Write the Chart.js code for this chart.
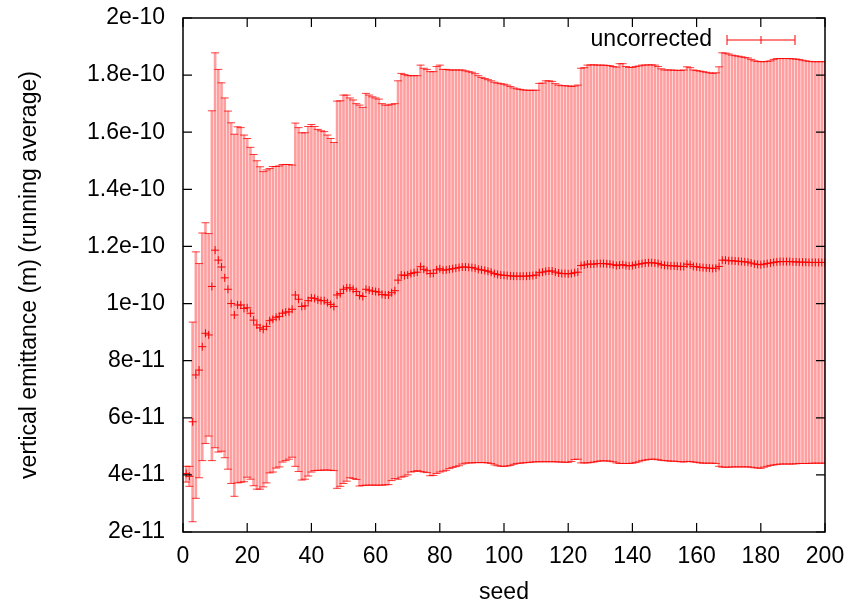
<!DOCTYPE html>
<html>
<head>
<meta charset="utf-8">
<script src="https://cdn.jsdelivr.net/npm/chart.js@4.4.1/dist/chart.umd.min.js"></script>
<style>
  html, body { margin: 0; background: #fff; }
</style>
</head>
<body>
<canvas id="myChart" width="848" height="603"></canvas>
<script>
// values in units of 1e-11 m
const UNIT = 1e-11
const seeds = Array.from({length: 200}, (_, i) => i + 1)

const upper = [
  4.3, 4.3, 9.35, 11.81, 11.4, 12.47, 12.83, 12.45, 16.75, 18.78,
  18.2, 17.73, 17.2, 16.74, 16.33, 15.93, 16.19, 16.16, 15.9, 15.78,
  15.47, 15.22, 15.0, 14.79, 14.62, 14.68, 14.73, 14.8, 14.8, 14.82,
  14.87, 14.87, 14.87, 14.85, 16.32, 16.16, 15.98, 15.98, 16.2, 16.27,
  16.2, 16.1, 16.05, 16.02, 15.9, 15.78, 15.64, 17.09, 17.1, 17.3,
  17.3, 17.2, 17.13, 17.0, 16.95, 16.87, 17.36, 17.3, 17.24, 17.2,
  17.16, 17.0, 16.95, 16.95, 16.98, 17.0, 17.8, 18.06, 18.02, 17.98,
  17.98, 17.98, 17.98, 18.35, 18.24, 18.2, 18.12, 18.12, 18.3, 18.35,
  18.2, 18.2, 18.18, 18.18, 18.18, 18.18, 18.18, 18.15, 18.12, 18.1,
  18.05, 17.98, 17.92, 17.88, 17.84, 17.8, 17.75, 17.72, 17.7, 17.68,
  17.65, 17.6, 17.55, 17.52, 17.5, 17.48, 17.47, 17.47, 17.47, 17.47,
  17.71, 17.72, 17.8, 17.8, 17.78, 17.7, 17.65, 17.63, 17.63, 17.62,
  17.6, 17.62, 17.65, 18.24, 18.26, 18.35, 18.36, 18.36, 18.35, 18.35,
  18.35, 18.34, 18.33, 18.3, 18.28, 18.4, 18.4, 18.3, 18.27, 18.27,
  18.3, 18.32, 18.35, 18.35, 18.36, 18.36, 18.35, 18.3, 18.22, 18.18,
  18.18, 18.18, 18.17, 18.17, 18.16, 18.18, 18.29, 18.26, 18.18, 18.16,
  18.14, 18.12, 18.1, 18.08, 18.06, 18.08, 18.29, 18.78, 18.77, 18.74,
  18.7, 18.68, 18.66, 18.64, 18.62, 18.6, 18.55, 18.5, 18.48, 18.47,
  18.47, 18.48, 18.5, 18.55, 18.58, 18.58, 18.58, 18.58, 18.58, 18.57,
  18.56, 18.55, 18.52, 18.5, 18.48, 18.47, 18.47, 18.47, 18.47, 18.47
]

const mean = [
  4.05, 3.95, 5.86, 7.5, 7.67, 8.49, 8.96, 8.9, 10.6, 11.87,
  11.52, 11.28, 10.9, 10.5, 10.0, 9.6, 9.95, 9.95, 9.83, 9.85,
  9.66, 9.42, 9.25, 9.15, 9.1, 9.2, 9.4, 9.45, 9.52, 9.55,
  9.66, 9.7, 9.71, 9.8, 10.3, 10.15, 9.9, 9.92, 10.1, 10.2,
  10.18, 10.13, 10.1, 10.1, 10.03, 9.97, 9.9, 10.3, 10.35, 10.5,
  10.55, 10.55, 10.5, 10.42, 10.28, 10.25, 10.5, 10.47, 10.44, 10.42,
  10.4, 10.32, 10.3, 10.3, 10.38, 10.45, 10.82, 11.0, 10.98, 11.0,
  11.05, 11.08, 11.1, 11.29, 11.2, 11.15, 11.05, 11.06, 11.18, 11.22,
  11.17, 11.18, 11.2, 11.22, 11.24, 11.26, 11.28, 11.28, 11.27, 11.26,
  11.24, 11.2, 11.18, 11.16, 11.13, 11.1, 11.05, 11.02, 11.0, 10.99,
  10.98, 10.97, 10.96, 10.96, 10.96, 10.96, 10.96, 10.97, 10.98, 11.0,
  11.08, 11.1, 11.13, 11.14, 11.14, 11.1, 11.07, 11.05, 11.05, 11.04,
  11.05, 11.08, 11.1, 11.33, 11.35, 11.38, 11.38, 11.38, 11.4, 11.4,
  11.4, 11.39, 11.38, 11.36, 11.33, 11.35, 11.36, 11.33, 11.32, 11.33,
  11.36, 11.38, 11.4, 11.42, 11.43, 11.43, 11.42, 11.4, 11.36, 11.34,
  11.33, 11.32, 11.32, 11.31, 11.3, 11.3, 11.38, 11.36, 11.3, 11.29,
  11.27, 11.26, 11.25, 11.24, 11.23, 11.24, 11.3, 11.52, 11.52, 11.5,
  11.5, 11.49, 11.48, 11.47, 11.46, 11.45, 11.42, 11.39, 11.37, 11.36,
  11.38, 11.4, 11.42, 11.44, 11.46, 11.47, 11.47, 11.47, 11.47, 11.46,
  11.46, 11.45, 11.45, 11.45, 11.44, 11.44, 11.44, 11.44, 11.44, 11.44
]

const lower = [
  3.75, 3.6, 2.36, 3.18, 3.9, 4.5, 5.1, 5.36, 4.5, 4.95,
  4.8, 4.83, 4.6, 4.2, 3.7, 3.25, 3.72, 3.74, 3.76, 3.92,
  3.85, 3.62, 3.5, 3.5, 3.58, 3.72, 4.07, 4.1, 4.24, 4.28,
  4.45, 4.5, 4.55, 4.62, 4.3, 4.12, 3.82, 3.85, 3.96, 4.1,
  4.15, 4.16, 4.16, 4.17, 4.17, 4.16, 4.15, 3.53, 3.6, 3.7,
  3.78, 3.9, 3.87, 3.84, 3.61, 3.63, 3.64, 3.64, 3.64, 3.64,
  3.64, 3.64, 3.65, 3.66, 3.8, 3.87, 3.85, 3.92, 3.95, 4.0,
  4.1, 4.12, 4.15, 4.12, 4.1, 4.08, 3.97, 3.98, 4.05, 4.1,
  4.13, 4.16, 4.22, 4.26, 4.29, 4.32, 4.38, 4.41, 4.42, 4.42,
  4.43, 4.43, 4.43, 4.43, 4.42, 4.4, 4.35, 4.32, 4.3, 4.3,
  4.31, 4.33, 4.37, 4.4, 4.41, 4.42, 4.43, 4.44, 4.45, 4.46,
  4.46, 4.46, 4.46, 4.46, 4.46, 4.46, 4.45, 4.45, 4.44, 4.44,
  4.47, 4.54, 4.55, 4.42, 4.42, 4.42, 4.43, 4.45, 4.47, 4.49,
  4.49, 4.49, 4.48, 4.46, 4.42, 4.4, 4.4, 4.4, 4.4, 4.41,
  4.43, 4.46, 4.5, 4.52, 4.54, 4.55, 4.55, 4.53, 4.51, 4.5,
  4.49, 4.48, 4.48, 4.47, 4.46, 4.45, 4.47, 4.47, 4.45, 4.44,
  4.42, 4.41, 4.41, 4.41, 4.41, 4.4, 4.3, 4.27, 4.27, 4.27,
  4.28, 4.28, 4.28, 4.28, 4.28, 4.28, 4.27, 4.25, 4.24, 4.23,
  4.27, 4.3, 4.33, 4.35, 4.36, 4.38, 4.38, 4.38, 4.38, 4.38,
  4.39, 4.4, 4.4, 4.4, 4.4, 4.41, 4.41, 4.41, 4.41, 4.41
]

const yTicks = [2, 4, 6, 8, 10, 12, 14, 16, 18, 20]
const yTickLabels = ['2e-11', '4e-11', '6e-11', '8e-11', '1e-10', '1.2e-10', '1.4e-10', '1.6e-10', '1.8e-10', '2e-10']
const seriesName = 'uncorrected'

const FONT = 'Liberation Sans'
const FS = 23
const RED = '#ff0000'

// gnuplot-like border, inward mirrored ticks and the legend sample
const frame = {
  id: 'frame',
  afterDatasetsDraw(chart) {
    const {ctx, chartArea: a, scales: {x, y}} = chart
    ctx.save()
    ctx.strokeStyle = '#000'
    ctx.lineWidth = 1.5
    ctx.strokeRect(a.left, a.top, a.right - a.left, a.bottom - a.top)
    ctx.lineWidth = 1.2
    ctx.beginPath()
    x.ticks.forEach(t => {
      const px = x.getPixelForValue(t.value)
      ctx.moveTo(px, a.bottom); ctx.lineTo(px, a.bottom - 9)
      ctx.moveTo(px, a.top); ctx.lineTo(px, a.top + 9)
    })
    y.ticks.forEach(t => {
      const py = y.getPixelForValue(t.value)
      ctx.moveTo(a.left, py); ctx.lineTo(a.left + 9, py)
      ctx.moveTo(a.right, py); ctx.lineTo(a.right - 9, py)
    })
    ctx.stroke()

    // legend
    const ly = a.top + 22
    ctx.fillStyle = '#000'
    ctx.font = `${FS}px "${FONT}"`
    ctx.textAlign = 'right'
    ctx.textBaseline = 'middle'
    ctx.fillText(seriesName, a.right - 113, ly)
    const x0 = a.right - 98, x1 = a.right - 30, xm = (x0 + x1) / 2
    ctx.strokeStyle = RED
    ctx.lineWidth = 1
    ctx.beginPath()
    ctx.moveTo(x0, ly); ctx.lineTo(x1, ly)
    ctx.moveTo(x0, ly - 5); ctx.lineTo(x0, ly + 5)
    ctx.moveTo(x1, ly - 5); ctx.lineTo(x1, ly + 5)
    ctx.moveTo(xm, ly - 4); ctx.lineTo(xm, ly + 4)
    ctx.stroke()
    ctx.restore()
  }
}

const ctx = document.getElementById('myChart').getContext('2d')
const chart = new Chart(ctx, {
  type: 'bar',
  data: {
    datasets: [{
      type: 'scatter',
      label: 'mean',
      data: seeds.map((s, i) => ({x: s, y: mean[i]})),
      pointStyle: 'cross',
      radius: 4,
      borderWidth: 1,
      borderColor: RED
    }, {
      type: 'scatter',
      label: 'upper',
      data: seeds.map((s, i) => ({x: s, y: upper[i]})),
      pointStyle: 'line',
      radius: 4,
      borderWidth: 1,
      borderColor: 'rgba(255,0,0,0.75)'
    }, {
      type: 'scatter',
      label: 'lower',
      data: seeds.map((s, i) => ({x: s, y: lower[i]})),
      pointStyle: 'line',
      radius: 4,
      borderWidth: 1,
      borderColor: 'rgba(255,0,0,0.75)'
    }, {
      type: 'bar',
      label: seriesName,
      data: seeds.map((s, i) => ({x: s, y: [lower[i], upper[i]]})),
      barThickness: 2,
      backgroundColor: 'rgba(255,0,0,0.38)',
      borderWidth: 0
    }]
  },
  options: {
    responsive: false,
    animation: false,
    devicePixelRatio: 1,
    layout: {padding: {left: 0, right: 23, top: 18, bottom: 0}},
    plugins: {legend: {display: false}, tooltip: {enabled: false}},
    scales: {
      x: {
        type: 'linear',
        offset: false,
        min: 0, max: 200,
        grid: {display: false, drawTicks: false},
        border: {display: false},
        ticks: {stepSize: 20, padding: 11, color: '#000', font: {family: FONT, size: FS}},
        title: {display: true, text: 'seed', color: '#000', font: {family: FONT, size: FS}, padding: {top: 0, bottom: -3}},
        afterFit: s => { s.height = 71; s.paddingLeft = 0; s.paddingRight = 0 }
      },
      y: {
        type: 'linear',
        min: 2, max: 20,
        grid: {display: false, drawTicks: false},
        border: {display: false},
        afterBuildTicks: s => { s.ticks = yTicks.map(v => ({value: v})) },
        ticks: {
          padding: 18, color: '#000', font: {family: FONT, size: FS},
          callback: v => yTickLabels[yTicks.indexOf(v)]
        },
        title: {display: true, text: 'vertical emittance (m) (running average)', color: '#000', font: {family: FONT, size: FS}, padding: {top: 16, bottom: 0}},
        afterFit: s => { s.width = 183; s.paddingTop = 0; s.paddingBottom = 0 }
      }
    }
  },
  plugins: [frame]
})
</script>
</body>
</html>
